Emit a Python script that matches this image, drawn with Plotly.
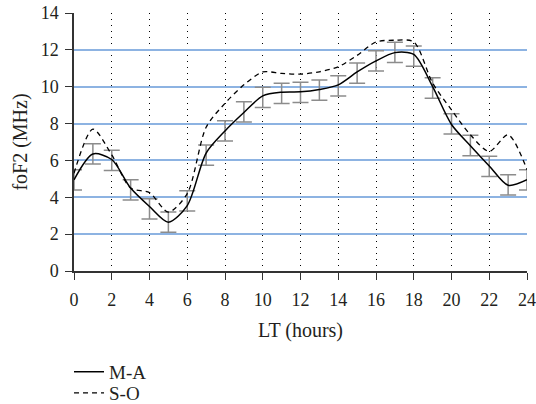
import plotly.graph_objects as go

hours = list(range(25))
ma_mean = [4.95, 6.36, 6.0, 4.4, 3.37, 2.65, 3.8, 6.29, 7.6, 8.63, 9.42, 9.64, 9.69, 9.82, 10.04,
           10.74, 11.4, 11.86, 11.66, 9.93, 7.98, 6.81, 5.68, 4.67, 4.94]
ma_err = [0.55] * 25
ma_line = [4.95, 6.35, 6.05, 4.5, 3.5, 2.65, 3.55, 6.4, 7.6, 8.6, 9.5, 9.7, 9.72, 9.85, 10.1,
           10.8, 11.4, 11.85, 11.75, 10.0, 7.95, 6.8, 5.7, 4.65, 4.95]
so_line = [5.3, 7.7, 6.3, 4.5, 4.25, 3.2, 4.2, 7.8, 9.1, 10.1, 10.8, 10.72, 10.68, 10.81, 11.08,
           11.7, 12.43, 12.52, 12.43, 10.2, 8.74, 7.39, 6.49, 7.39, 5.5]

fig = go.Figure()
fig.add_trace(go.Scatter(
    x=hours, y=ma_mean, mode="markers", showlegend=False,
    marker=dict(size=1, opacity=0),
    error_y=dict(type="data", array=ma_err, visible=True, color="#8c8c8c", thickness=1.5, width=8),
    hoverinfo="skip", cliponaxis=False))
fig.add_trace(go.Scatter(
    x=hours, y=ma_line, mode="lines", name="M-A", legend="legend",
    line=dict(color="black", width=1.5, shape="spline", smoothing=0.8)))
fig.add_trace(go.Scatter(
    x=hours, y=so_line, mode="lines", name="S-O", legend="legend2",
    line=dict(color="black", width=1.3, dash="5px,4px", shape="spline", smoothing=0.8)))

font_family = "Liberation Serif, Times New Roman, serif"
leg_common = dict(xanchor="left", yanchor="middle", orientation="v",
                  font=dict(size=19), itemwidth=30, bgcolor="rgba(0,0,0,0)")
fig.update_layout(
    width=536, height=404,
    margin=dict(l=74, r=9, t=13, b=133, autoexpand=False),
    paper_bgcolor="white", plot_bgcolor="white",
    font=dict(family=font_family, size=18, color="#231f20"),
    showlegend=True,
    legend=dict(x=-0.011, y=-0.391, **leg_common),
    legend2=dict(x=-0.011, y=-0.473, **leg_common),
    xaxis=dict(range=[0, 24], tickvals=list(range(0, 25, 2)), showgrid=True,
               gridcolor="black", gridwidth=1, griddash="1px,5px",
               showline=True, linecolor="#333", linewidth=1.5,
               ticks="outside", ticklen=7, tickcolor="#333", automargin=False,
               tickfont=dict(size=18), ticklabelstandoff=5,
               title=dict(text="LT (hours)", standoff=14, font=dict(size=20)), zeroline=False),
    yaxis=dict(range=[0, 14], tickvals=list(range(0, 15, 2)), showgrid=True,
               gridcolor="#8db3e2", gridwidth=1.5,
               showline=True, linecolor="#333", linewidth=1.5,
               ticks="outside", ticklen=7, tickcolor="#333", automargin=False,
               tickfont=dict(size=18), ticklabelstandoff=3,
               title=dict(text="foF2 (MHz)", standoff=8, font=dict(size=20)), zeroline=False),
)
fig.write_html("out.html", config={"displayModeBar": False},
               post_script="document.body.style.margin='0';")
